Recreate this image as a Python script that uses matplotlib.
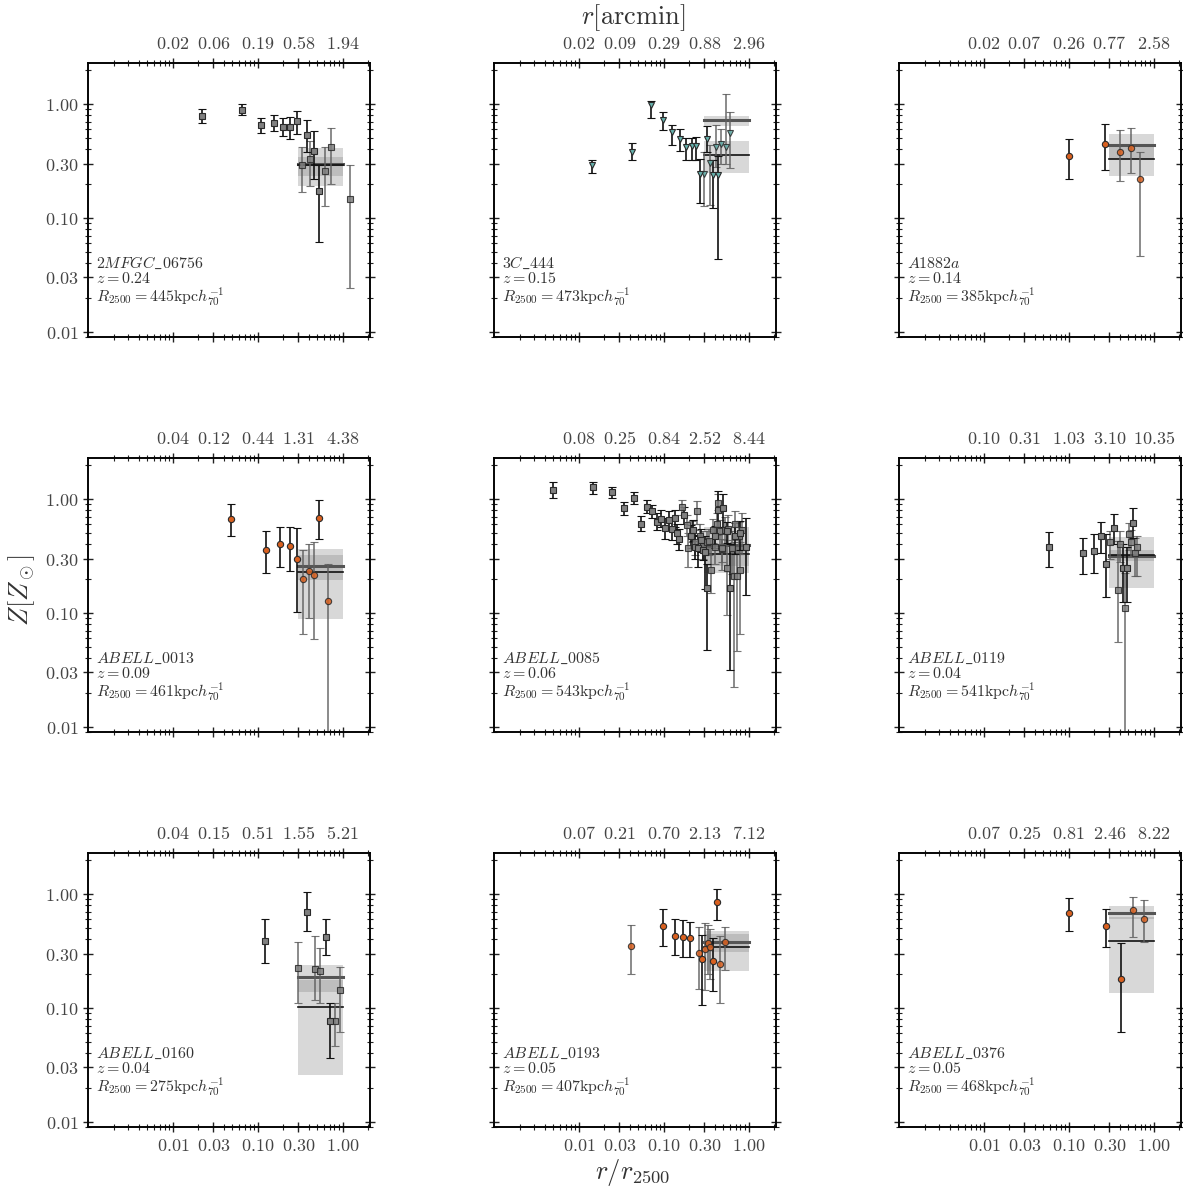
import numpy as np
import matplotlib
matplotlib.use('Agg')
import matplotlib.pyplot as plt
from matplotlib.ticker import FixedLocator, LogLocator, NullFormatter

plt.rcParams['mathtext.fontset'] = 'cm'
plt.rcParams['font.family'] = 'serif'
plt.rcParams['font.serif'] = ['DejaVu Serif']
plt.rcParams['axes.linewidth'] = 1.2

# cluster header info
names = ['2MFGC\\_06756', '3C\\_444', 'A1882a',
         'ABELL\\_0013', 'ABELL\\_0085', 'ABELL\\_0119',
         'ABELL\\_0160', 'ABELL\\_0193', 'ABELL\\_0376']
redshift = [0.24, 0.15, 0.14, 0.09, 0.06, 0.04, 0.04, 0.05, 0.05]
r2500_kpc = [445, 473, 385, 461, 543, 541, 275, 407, 468]

# arcmin values printed on the top axis at r/r2500 = 0.01, 0.03, 0.1, 0.3, 1
arcmin_labels = [
    ['0.02', '0.06', '0.19', '0.58', '1.94'],
    ['0.02', '0.09', '0.29', '0.88', '2.96'],
    ['0.02', '0.07', '0.26', '0.77', '2.58'],
    ['0.04', '0.12', '0.44', '1.31', '4.38'],
    ['0.08', '0.25', '0.84', '2.52', '8.44'],
    ['0.10', '0.31', '1.03', '3.10', '10.35'],
    ['0.04', '0.15', '0.51', '1.55', '5.21'],
    ['0.07', '0.21', '0.70', '2.13', '7.12'],
    ['0.07', '0.25', '0.81', '2.46', '8.22'],
]
r_ticks = [0.01, 0.03, 0.1, 0.3, 1.0]
r_ticklabels = ['0.01', '0.03', '0.10', '0.30', '1.00']
z_ticks = [0.01, 0.03, 0.1, 0.3, 1.0]
z_ticklabels = ['0.01', '0.03', '0.10', '0.30', '1.00']

markers = ['s', 'v', 'o', 'o', 's', 's', 's', 'o', 'o']

# profiles: (r/r2500, Z, Z_low, Z_high, set)  set 0 = primary, 1 = secondary
p_2mfgc = [
    (0.0218, 0.79, 0.69, 0.91, 0), (0.0658, 0.89, 0.80, 1.00, 0),
    (0.110, 0.65, 0.56, 0.75, 0), (0.154, 0.69, 0.58, 0.81, 0),
    (0.198, 0.63, 0.52, 0.75, 0), (0.241, 0.63, 0.49, 0.77, 0),
    (0.287, 0.71, 0.55, 0.87, 0), (0.377, 0.54, 0.38, 0.72, 0),
    (0.329, 0.29, 0.168, 0.42, 1), (0.416, 0.33, 0.19, 0.47, 1),
    (0.464, 0.39, 0.22, 0.58, 0), (0.526, 0.171, 0.061, 0.29, 0),
    (0.62, 0.26, 0.128, 0.42, 1), (0.73, 0.42, 0.20, 0.62, 1),
    (1.23, 0.147, 0.0244, 0.29, 1),
]
p_3c444 = [
    (0.0141, 0.29, 0.247, 0.32, 0), (0.042, 0.38, 0.32, 0.46, 0),
    (0.070, 0.98, 0.76, 1.07, 0), (0.098, 0.72, 0.59, 0.85, 0),
    (0.126, 0.57, 0.44, 0.65, 0), (0.155, 0.49, 0.39, 0.60, 0),
    (0.184, 0.42, 0.32, 0.50, 0), (0.213, 0.43, 0.32, 0.50, 0),
    (0.239, 0.43, 0.32, 0.51, 0), (0.267, 0.244, 0.135, 0.33, 0),
    (0.297, 0.244, 0.127, 0.38, 1), (0.325, 0.49, 0.38, 0.64, 0),
    (0.35, 0.306, 0.13, 0.44, 1), (0.383, 0.237, 0.122, 0.32, 0),
    (0.412, 0.42, 0.28, 0.66, 1), (0.438, 0.237, 0.044, 0.35, 0),
    (0.475, 0.45, 0.30, 0.61, 1), (0.54, 0.42, 0.30, 1.22, 1),
    (0.61, 0.56, 0.277, 0.86, 1),
]
p_a1882a = [
    (0.10, 0.35, 0.22, 0.49, 0), (0.27, 0.45, 0.264, 0.67, 0),
    (0.40, 0.38, 0.21, 0.59, 1), (0.54, 0.415, 0.247, 0.62, 1),
    (0.69, 0.22, 0.046, 0.38, 1),
]
p_a0013 = [
    (0.048, 0.67, 0.47, 0.90, 0), (0.126, 0.36, 0.226, 0.52, 0),
    (0.184, 0.40, 0.255, 0.57, 0), (0.241, 0.39, 0.234, 0.57, 0),
    (0.29, 0.30, 0.103, 0.56, 0), (0.34, 0.20, 0.065, 0.36, 1),
    (0.40, 0.235, 0.090, 0.40, 1), (0.46, 0.217, 0.059, 0.42, 1),
    (0.52, 0.69, 0.45, 0.98, 0), (0.68, 0.128, 0.002, 0.27, 1),
]
p_a0085 = [
    (0.0049, 1.20, 1.03, 1.41, 0), (0.0148, 1.27, 1.11, 1.41, 0),
    (0.0247, 1.16, 1.02, 1.29, 0), (0.0343, 0.83, 0.73, 0.95, 0),
    (0.0441, 1.02, 0.91, 1.15, 0), (0.0543, 0.61, 0.52, 0.71, 0),
    (0.064, 0.86, 0.75, 0.98, 0), (0.073, 0.79, 0.68, 0.89, 0),
    (0.084, 0.63, 0.54, 0.75, 0), (0.093, 0.67, 0.57, 0.80, 0),
    (0.104, 0.555, 0.45, 0.68, 0), (0.114, 0.66, 0.55, 0.78, 0),
    (0.124, 0.55, 0.44, 0.68, 0), (0.134, 0.68, 0.57, 0.80, 0),
    (0.142, 0.50, 0.40, 0.60, 0), (0.152, 0.45, 0.36, 0.55, 0),
    (0.163, 0.85, 0.73, 0.98, 1), (0.173, 0.73, 0.60, 0.85, 0),
    (0.186, 0.59, 0.47, 0.72, 1), (0.195, 0.37, 0.255, 0.50, 1),
    (0.207, 0.475, 0.37, 0.59, 0), (0.213, 0.52, 0.42, 0.64, 1),
    (0.219, 0.54, 0.43, 0.66, 0), (0.231, 0.42, 0.32, 0.54, 1),
    (0.233, 0.38, 0.30, 0.47, 0), (0.248, 0.79, 0.60, 0.97, 1),
    (0.255, 0.37, 0.255, 0.48, 0), (0.267, 0.475, 0.35, 0.60, 1),
    (0.278, 0.44, 0.34, 0.55, 0), (0.29, 0.395, 0.30, 0.52, 1),
    (0.29, 0.358, 0.29, 0.44, 0), (0.305, 0.34, 0.163, 0.47, 0),
    (0.32, 0.42, 0.33, 0.52, 1), (0.323, 0.166, 0.047, 0.27, 0),
    (0.338, 0.43, 0.32, 0.55, 1), (0.362, 0.239, 0.149, 0.38, 1),
    (0.383, 0.54, 0.41, 0.67, 1), (0.40, 0.38, 0.27, 0.50, 1),
    (0.40, 0.47, 0.37, 0.58, 0), (0.42, 0.61, 0.48, 0.75, 1),
    (0.43, 0.80, 0.57, 1.19, 0), (0.44, 0.93, 0.80, 1.10, 1),
    (0.46, 0.52, 0.40, 0.65, 1), (0.48, 0.365, 0.28, 0.45, 1),
    (0.485, 0.37, 0.24, 0.50, 1), (0.50, 0.83, 0.57, 1.12, 0),
    (0.526, 0.54, 0.40, 0.70, 1), (0.55, 0.247, 0.096, 0.44, 1),
    (0.56, 0.52, 0.41, 0.63, 0), (0.575, 0.55, 0.40, 0.72, 1),
    (0.61, 0.166, 0.0316, 0.40, 0), (0.64, 0.37, 0.22, 0.52, 1),
    (0.67, 0.213, 0.0225, 0.42, 1), (0.69, 0.47, 0.33, 0.62, 0),
    (0.695, 0.61, 0.44, 0.78, 1), (0.72, 0.21, 0.046, 0.39, 1),
    (0.76, 0.475, 0.33, 0.63, 1), (0.79, 0.239, 0.066, 0.42, 1),
    (0.79, 0.50, 0.36, 0.64, 0), (0.83, 0.54, 0.33, 0.76, 1),
    (0.92, 0.38, 0.144, 0.68, 0),
]
p_a0119 = [
    (0.0585, 0.38, 0.255, 0.51, 0), (0.146, 0.334, 0.22, 0.46, 0),
    (0.196, 0.35, 0.225, 0.49, 0), (0.238, 0.475, 0.334, 0.63, 0),
    (0.277, 0.27, 0.139, 0.49, 0), (0.31, 0.42, 0.30, 0.52, 1),
    (0.343, 0.555, 0.40, 0.74, 0), (0.377, 0.159, 0.056, 0.43, 1),
    (0.405, 0.40, 0.28, 0.52, 1), (0.43, 0.247, 0.126, 0.40, 0),
    (0.46, 0.11, 0.002, 0.225, 1), (0.48, 0.247, 0.126, 0.38, 0),
    (0.51, 0.49, 0.36, 0.62, 1), (0.54, 0.42, 0.31, 0.54, 1),
    (0.57, 0.62, 0.46, 0.83, 0), (0.60, 0.334, 0.21, 0.46, 1),
    (0.635, 0.38, 0.21, 0.47, 1),
]
p_a0160 = [
    (0.122, 0.39, 0.25, 0.60, 0), (0.295, 0.226, 0.11, 0.38, 1),
    (0.383, 0.70, 0.47, 1.04, 0), (0.47, 0.22, 0.117, 0.43, 1),
    (0.54, 0.21, 0.111, 0.334, 1), (0.635, 0.42, 0.29, 0.60, 0),
    (0.71, 0.077, 0.0366, 0.11, 0), (0.81, 0.077, 0.046, 0.111, 1),
    (0.92, 0.143, 0.061, 0.23, 1),
]
p_a0193 = [
    (0.041, 0.35, 0.198, 0.54, 1), (0.098, 0.53, 0.35, 0.74, 0),
    (0.134, 0.43, 0.29, 0.60, 0), (0.17, 0.42, 0.28, 0.59, 0),
    (0.205, 0.41, 0.28, 0.57, 0), (0.258, 0.306, 0.146, 0.51, 1),
    (0.28, 0.268, 0.106, 0.44, 0), (0.308, 0.33, 0.144, 0.555, 1),
    (0.33, 0.37, 0.20, 0.54, 1), (0.35, 0.34, 0.18, 0.49, 1),
    (0.383, 0.26, 0.141, 0.41, 0), (0.42, 0.85, 0.59, 1.12, 0),
    (0.46, 0.244, 0.111, 0.43, 1), (0.526, 0.38, 0.216, 0.51, 1),
]
p_a0376 = [
    (0.10, 0.68, 0.475, 0.93, 0), (0.277, 0.52, 0.34, 0.74, 0),
    (0.415, 0.18, 0.061, 0.37, 0), (0.57, 0.72, 0.42, 0.95, 1),
    (0.76, 0.60, 0.38, 0.88, 1),
]
profiles = [p_2mfgc, p_3c444, p_a1882a, p_a0013, p_a0085,
            p_a0119, p_a0160, p_a0193, p_a0376]

# mean abundance in 0.3-1 r2500: (mean, err) for the secondary and primary sets
mean_secondary = [(0.30, 0.11), (0.72, 0.075), (0.44, 0.11), (0.26, 0.065),
                  (0.395, 0.17), (0.315, 0.15), (0.188, 0.05), (0.38, 0.07),
                  (0.69, 0.09)]
mean_primary = [(0.29, 0.055), (0.36, 0.11), (0.33, 0.095), (0.228, 0.14),
                (0.33, 0.07), (0.32, 0.035), (0.101, 0.075), (0.34, 0.13),
                (0.385, 0.25)]
band_r = [0.3, 1.0]

face = {'s': '#808080', 'v': '#66b2ad', 'o': '#d9601f'}

W, H = 1183, 1190
col_left = [88, 494, 899]
row_top = [63, 458, 853]
ax_w, ax_h = 282, 274

fig = plt.figure(figsize=(W / 100, H / 100), dpi=100)

tick_kw = dict(which='both', direction='inout', color='#222222',
               labelcolor='#444444', labelsize=13)


def setup_log_axis(axis, ticks):
    axis.set_major_locator(FixedLocator(ticks))
    axis.set_minor_locator(LogLocator(base=10, subs=np.arange(2, 10), numticks=20))
    axis.set_minor_formatter(NullFormatter())


for i in range(9):
    row, col = divmod(i, 3)
    rect = [col_left[col] / W, 1 - (row_top[row] + ax_h) / H, ax_w / W, ax_h / H]
    ax = fig.add_axes(rect)
    ax.set_xscale('log')
    ax.set_yscale('log')
    ax.set_xlim(0.001, 2.1)
    ax.set_ylim(0.009, 2.3)

    # shaded mean bands
    for (m, e), lc, lw in [(mean_secondary[i], '#555555', 2.2),
                           (mean_primary[i], '#111111', 1.2)]:
        ax.fill_between(band_r, m - e, m + e, color='gray', alpha=0.3, lw=0, zorder=1)
        ax.plot(band_r, [m, m], color=lc, lw=lw, zorder=2)

    mk = markers[i]
    for s in (1, 0):
        pts = np.array([p[:4] for p in profiles[i] if p[4] == s])
        if len(pts) == 0:
            continue
        r, z, lo, hi = pts.T
        ecol = '#111111' if s == 0 else '#5e5e5e'
        alpha = 1.0 if s == 0 else 0.85
        ax.errorbar(r, z, yerr=[z - lo, hi - z], fmt=mk, ms=5 if mk != 'o' else 4.5,
                    mfc=face[mk], mec='#2a2a2a', mew=0.8, ecolor=ecol,
                    elinewidth=1.2, capsize=3, capthick=1.0, alpha=alpha, zorder=3)

    setup_log_axis(ax.xaxis, r_ticks)
    setup_log_axis(ax.yaxis, z_ticks)
    ax.tick_params(**tick_kw, top=False, right=True)
    ax.tick_params(which='major', length=7, width=1.0)
    ax.tick_params(which='minor', length=5, width=0.8)
    if row == 2:
        ax.set_xticklabels(['$%s$' % t for t in r_ticklabels])
    else:
        ax.tick_params(labelbottom=False)
    if col == 0:
        ax.set_yticklabels(['$%s$' % t for t in z_ticklabels])
    else:
        ax.tick_params(labelleft=False)
    for sp in ax.spines.values():
        sp.set_color('#222222')

    top = ax.twiny()
    top.set_xscale('log')
    top.set_xlim(ax.get_xlim())
    setup_log_axis(top.xaxis, r_ticks)
    top.set_xticklabels(['$%s$' % t for t in arcmin_labels[i]])
    top.tick_params(**tick_kw)
    top.tick_params(which='major', length=7, width=1.0)
    top.tick_params(which='minor', length=5, width=0.8)

    txt = dict(transform=ax.transAxes, fontsize=11.5, color='#333333', va='center')
    ax.text(0.03, 0.268, '$%s$' % names[i], **txt)
    ax.text(0.03, 0.213, '$z = %.2f$' % redshift[i], **txt)
    ax.text(0.03, 0.148, r'$R_{2500} = %d\mathrm{kpc}h_{70}^{-1}$' % r2500_kpc[i], **txt)

fig.text(633 / W, 1 - 18 / H, r'$r[\mathrm{arcmin}]$', ha='center', va='center',
         fontsize=19, color='#333333')
fig.text(22 / W, 1 - 590 / H, r'$Z[Z_\odot]$', ha='center', va='center',
         rotation=90, fontsize=19, color='#333333')
fig.text(633 / W, 1 - 1172 / H, r'$r/r_{2500}$', ha='center', va='center',
         fontsize=19, color='#333333')

fig.savefig('out.png', dpi=100)
